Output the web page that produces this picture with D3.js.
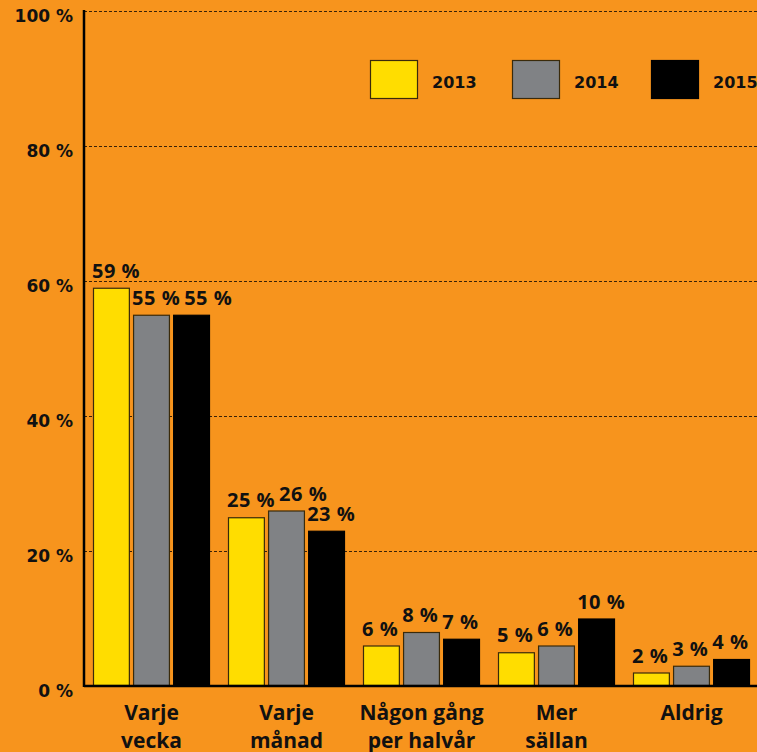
<!DOCTYPE html>
<html>
<head>
<meta charset="utf-8">
<script src="https://cdn.jsdelivr.net/npm/d3@7"></script>
<style>
  body { margin: 0; background: #F7941D; }
  svg { display: block; }
  text { font-family: "Open Sans", "DejaVu Sans", sans-serif; font-weight: 700; fill: #111; }
  text.num { font-family: "DejaVu Sans", sans-serif; }
</style>
</head>
<body>
<svg id="chart" width="757" height="752"></svg>
<script>
'use strict';

// data
var categories = [['Varje', 'vecka'], ['Varje', 'månad'], ['Någon gång', 'per halvår'], ['Mer', 'sällan'], ['Aldrig']];
var years = ['2013', '2014', '2015'];
var values2013 = [59, 25, 6, 5, 2];
var values2014 = [55, 26, 8, 6, 3];
var values2015 = [55, 23, 7, 10, 4];
var yTicks = [0, 20, 40, 60, 80, 100];

var series = [values2013, values2014, values2015];
var colors = ['#FFDD00', '#808285', '#000000'];

var svg = d3.select('#chart');
var plotLeft = 84, plotRight = 759, plotTop = 11, plotBottom = 686;

var x0 = d3.scaleBand()
    .domain(d3.range(categories.length))
    .range([plotLeft, plotRight]);

var x1 = d3.scaleBand()
    .domain(d3.range(years.length))
    .range([9, x0.bandwidth() - 9])
    .paddingInner(0.08);

var y = d3.scaleLinear().domain([0, 100]).range([plotBottom, plotTop]);

// gridlines
svg.append('g').selectAll('line')
    .data(yTicks.filter(function(d) { return d > 0; }))
    .enter().append('line')
    .attr('x1', plotLeft).attr('x2', 757)
    .attr('y1', function(d) { return y(d) + 0.5; })
    .attr('y2', function(d) { return y(d) + 0.5; })
    .attr('stroke', '#3a2208')
    .attr('stroke-width', 1)
    .attr('stroke-dasharray', '3,2');

// y tick labels
svg.append('g').selectAll('text')
    .data(yTicks)
    .enter().append('text')
    .attr('class', 'num')
    .attr('x', 73)
    .attr('y', function(d) { return y(d) + 11; })
    .attr('text-anchor', 'end')
    .style('font-size', '17px')
    .text(function(d) { return d + ' %'; });

// bars
var groups = svg.append('g').selectAll('g')
    .data(categories)
    .enter().append('g')
    .attr('transform', function(d, i) { return 'translate(' + x0(i) + ',0)'; });

function cells(d, i) {
    return series.map(function(s, k) { return {k: k, v: s[i]}; });
}

groups.selectAll('rect')
    .data(cells)
    .enter().append('rect')
    .attr('x', function(d) { return x1(d.k) + 0.5; })
    .attr('y', function(d) { return y(d.v) + 0.5; })
    .attr('width', x1.bandwidth() - 1)
    .attr('height', function(d) { return plotBottom - y(d.v) - 1; })
    .attr('fill', function(d) { return colors[d.k]; })
    .attr('stroke', function(d) { return d.k === 2 ? '#000' : '#3a2a0a'; })
    .attr('stroke-width', 1.2);

// value labels start at the bar's left edge, nudged right if they'd
// collide with the previous label at about the same height
groups.each(function(cat, gi) {
    var prevEnd = -Infinity, prevY = -Infinity;
    d3.select(this).selectAll('text.val')
        .data(cells(cat, gi))
        .enter().append('text')
        .attr('class', 'val')
        .attr('y', function(d) { return y(d.v) - 10; })
        .style('font-size', '20px')
        .style('letter-spacing', '0.5px')
        .text(function(d) { return d.v + ' %'; })
        .each(function(d) {
            var ty = y(d.v) - 10,
                x = x1(d.k) - 1;
            if(Math.abs(ty - prevY) < 16) x = Math.max(x, prevEnd + 4);
            d3.select(this).attr('x', x);
            prevEnd = x + this.getComputedTextLength();
            prevY = ty;
        });
});

// category labels
groups.append('text')
    .attr('x', x0.bandwidth() / 2)
    .attr('y', 720)
    .attr('text-anchor', 'middle')
    .style('font-size', '21px')
    .selectAll('tspan')
    .data(function(d) { return d; })
    .enter().append('tspan')
    .attr('x', x0.bandwidth() / 2)
    .attr('dy', function(d, i) { return i ? 28 : 0; })
    .text(function(d) { return d; });

// axes
svg.append('line')
    .attr('x1', plotLeft).attr('x2', plotLeft)
    .attr('y1', 10).attr('y2', plotBottom + 1)
    .attr('stroke', '#000').attr('stroke-width', 2.5);
svg.append('line')
    .attr('x1', plotLeft).attr('x2', 757)
    .attr('y1', plotBottom).attr('y2', plotBottom)
    .attr('stroke', '#000').attr('stroke-width', 2.5);

// legend
var legendX = [370, 512, 651];
var legend = svg.append('g').selectAll('g')
    .data(years)
    .enter().append('g')
    .attr('transform', function(d, i) { return 'translate(' + legendX[i] + ',60)'; });
legend.append('rect')
    .attr('x', 0.5).attr('y', 0.5)
    .attr('width', 47).attr('height', 38)
    .attr('fill', function(d, i) { return colors[i]; })
    .attr('stroke', function(d, i) { return i === 2 ? '#000' : '#3a2a0a'; })
    .attr('stroke-width', 1.2);
legend.append('text')
    .attr('class', 'num')
    .attr('x', 62).attr('y', 28)
    .style('font-size', '16px')
    .text(function(d) { return d; });
</script>
</body>
</html>
